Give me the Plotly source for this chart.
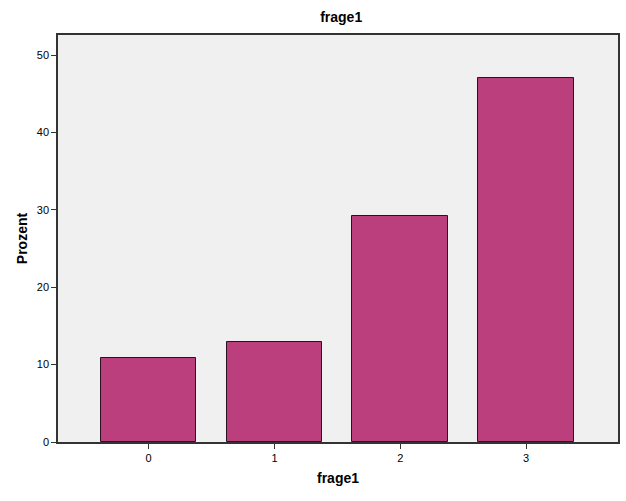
import plotly.graph_objects as go

categories = ["0", "1", "2", "3"]
values = [10.8, 12.9, 29.2, 47.1]
y_ticks = [0, 10, 20, 30, 40, 50]

fig = go.Figure(go.Bar(
    x=[0, 1, 2, 3], y=values, width=0.76,
    marker=dict(color="#BB3F7C", line=dict(color="#2B1020", width=1)),
))

fig.update_layout(
    width=626, height=501,
    margin=dict(l=58, r=8, t=35, b=59, autoexpand=False),
    paper_bgcolor="white", plot_bgcolor="#F0F0F0",
    font=dict(family="Arial, Liberation Sans, sans-serif", size=11, color="black"),
    title=dict(text="<b>frage1</b>", x=0.545, xanchor="center", y=0.965, yanchor="middle",
               font=dict(size=14, color="black"), automargin=False),
    showlegend=False, bargap=0,
)
fig.update_xaxes(
    range=[-0.72, 3.73], tickvals=[0, 1, 2, 3], ticktext=categories,
    showgrid=False, zeroline=False, automargin=False,
    showline=True, linecolor="#333333", linewidth=1.5, mirror=True,
    ticks="outside", ticklen=5, tickcolor="#333333",
    tickfont=dict(color="black", size=11),
    title=dict(text="<b>frage1</b>", font=dict(size=14, color="black"), standoff=10),
)
fig.update_yaxes(
    range=[0, 52.6], tickvals=y_ticks,
    showgrid=False, zeroline=False, automargin=False,
    showline=True, linecolor="#333333", linewidth=1.5, mirror=True,
    ticks="outside", ticklen=5, tickcolor="#333333",
    tickfont=dict(color="black", size=11),
    title=dict(text="<b>Prozent</b>", font=dict(size=14, color="black"), standoff=6),
)

fig.write_html(
    "out.html",
    config={"displayModeBar": False},
    post_script="document.body.style.margin='0';document.body.style.overflow='hidden';",
)
